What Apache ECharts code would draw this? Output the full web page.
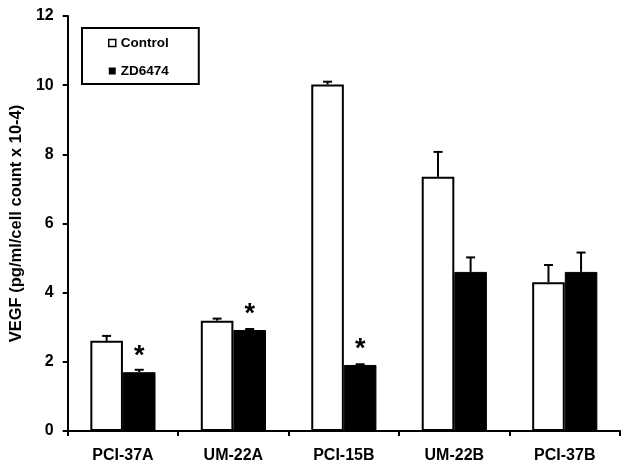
<!DOCTYPE html>
<html><head><meta charset="utf-8">
<script src="https://cdn.jsdelivr.net/npm/echarts@6/dist/echarts.min.js"></script>
<style>html,body{margin:0;padding:0;background:#fff}#c{width:629px;height:471px}</style>
</head><body><div id="c"></div>
<script>
var categories = ['PCI-37A', 'UM-22A', 'PCI-15B', 'UM-22B', 'PCI-37B'];
var controlValues = [2.61, 3.19, 10.02, 7.35, 4.30];
var controlErrors = [0.14, 0.06, 0.08, 0.72, 0.50];
var zdValues = [1.70, 2.92, 1.91, 4.60, 4.60];
var zdErrors = [0.07, 0.03, 0.02, 0.42, 0.56];
var zdSignificant = [true, true, true, false, false];
var yTicks = [0, 2, 4, 6, 8, 10, 12];

var FONT = '"Liberation Sans", Arial, sans-serif';
var BAR_W = 0.295;

function errSeries(name, vals, errs, side) {
  return {
    type: 'custom',
    name: name + ' err',
    silent: true,
    z: 1,
    data: vals.map(function (v, i) { return [i, v, v + errs[i]]; }),
    renderItem: function (params, api) {
      var band = api.size([1, 0])[0];
      var base = api.coord([api.value(0), api.value(1)]);
      var top = api.coord([api.value(0), api.value(2)]);
      var x = base[0] + side * band * BAR_W / 2;
      var cap = 4.5;
      var st = { stroke: '#000', lineWidth: 2 };
      return {
        type: 'group',
        children: [
          { type: 'line', shape: { x1: x, y1: base[1], x2: x, y2: top[1] }, style: st },
          { type: 'line', shape: { x1: x - cap, y1: top[1], x2: x + cap, y2: top[1] }, style: st }
        ]
      };
    }
  };
}

var chart = echarts.init(document.getElementById('c'));
chart.setOption({
  animation: false,
  backgroundColor: '#fff',
  grid: { left: 60, right: 9, top: 16, bottom: 40 },
  legend: {
    left: 82, top: 28,
    orient: 'vertical',
    padding: [8, 30, 6, 26],
    itemGap: 14,
    itemWidth: 7, itemHeight: 7,
    itemTextGap: 3,
    borderColor: '#000', borderWidth: 2,
    textStyle: { fontFamily: FONT, fontWeight: 'bold', fontSize: 13.5, color: '#000' },
    data: [
      { name: 'Control', icon: 'rect', itemStyle: { color: '#fff', borderColor: '#000', borderWidth: 1.5 } },
      { name: 'ZD6474', icon: 'rect', itemStyle: { color: '#000', borderColor: '#000', borderWidth: 0 } }
    ]
  },
  xAxis: {
    type: 'category',
    data: categories,
    axisLine: { lineStyle: { color: '#000', width: 2 } },
    axisTick: { show: true, length: 5, lineStyle: { color: '#000', width: 2 } },
    axisLabel: { color: '#000', fontFamily: FONT, fontWeight: 'bold', fontSize: 16, margin: 17 }
  },
  yAxis: {
    type: 'value',
    min: 0, max: 12, interval: 2,
    name: 'VEGF (pg/ml/cell count x 10-4)',
    nameLocation: 'middle',
    nameGap: 37,
    nameTextStyle: { color: '#000', fontFamily: FONT, fontWeight: 'bold', fontSize: 16.5 },
    splitLine: { show: false },
    axisLine: { show: true, lineStyle: { color: '#000', width: 2 } },
    axisTick: { show: true, length: 5, lineStyle: { color: '#000', width: 2 } },
    axisLabel: {
      color: '#000', fontFamily: FONT, fontWeight: 'bold', fontSize: 16, margin: 14,
      formatter: function (v) { return yTicks.indexOf(v) >= 0 ? String(v) : ''; }
    }
  },
  series: [
    {
      type: 'bar', name: 'Control', data: controlValues,
      barWidth: (BAR_W * 100) + '%', barGap: '0%', z: 2,
      itemStyle: { color: '#fff', borderColor: '#000', borderWidth: 2 }
    },
    {
      type: 'bar', name: 'ZD6474', data: zdValues,
      barWidth: (BAR_W * 100) + '%', barGap: '0%', z: 2,
      itemStyle: { color: '#000', borderColor: '#000', borderWidth: 1 },
      label: {
        show: true, position: 'top', distance: 2,
        fontFamily: FONT, fontWeight: 'bold', fontSize: 27, color: '#000',
        formatter: function (p) { return zdSignificant[p.dataIndex] ? '*' : ''; }
      }
    },
    errSeries('Control', controlValues, controlErrors, -1),
    errSeries('ZD6474', zdValues, zdErrors, 1)
  ]
});
</script></body></html>
